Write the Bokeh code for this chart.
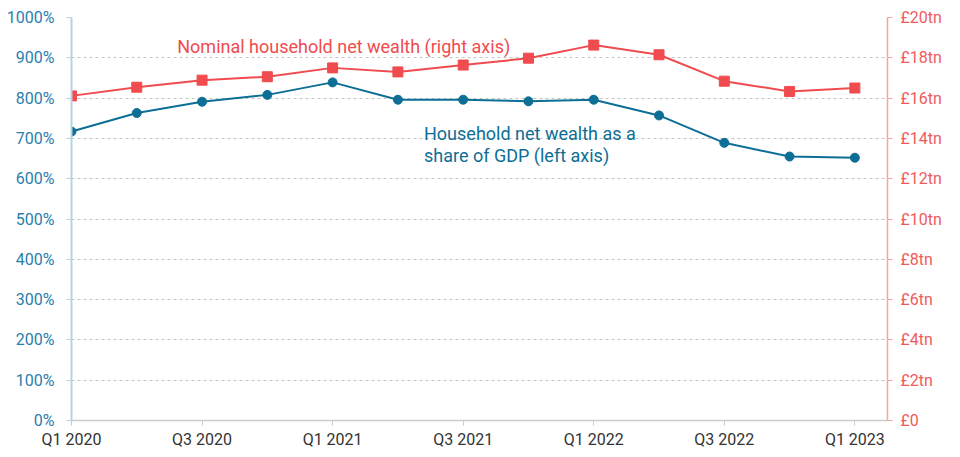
from bokeh.plotting import figure
from bokeh.models import (Range1d, LinearAxis, FixedTicker, Label, ColumnDataSource)
from bokeh.embed import file_html
from bokeh.resources import INLINE

quarters = ["Q1 2020", "Q2 2020", "Q3 2020", "Q4 2020", "Q1 2021", "Q2 2021", "Q3 2021",
            "Q4 2021", "Q1 2022", "Q2 2022", "Q3 2022", "Q4 2022", "Q1 2023"]
share_gdp = [717, 763, 791, 808, 839, 796, 796, 792, 796, 757, 689, 655, 652]
nominal_tn = [16.11, 16.54, 16.89, 17.06, 17.50, 17.30, 17.64, 17.98, 18.63, 18.15, 16.84, 16.33, 16.50]
left_ticks = [0, 100, 200, 300, 400, 500, 600, 700, 800, 900, 1000]
right_ticks = [0, 2, 4, 6, 8, 10, 12, 14, 16, 18, 20]

BLUE = "#0d6e96"
BLUE_LBL = "#2a80ab"
RED = "#f04b4e"
RED_LBL = "#f05a5c"
FONT = "Roboto"

x = list(range(len(quarters)))
src = ColumnDataSource(dict(x=x, share=share_gdp, nom=nominal_tn))

p = figure(width=952, height=455, output_backend="svg", toolbar_location=None,
           x_range=Range1d(0, 12.5), y_range=Range1d(0, 1000),
           min_border_left=71, min_border_right=65, min_border_top=17, min_border_bottom=35)
p.outline_line_color = None
p.background_fill_color = "white"
p.extra_y_ranges = {"right": Range1d(0, 20)}

# grid
p.xgrid.visible = False
p.ygrid.ticker = FixedTicker(ticks=left_ticks)
p.ygrid.grid_line_color = "#c4c4c4"
p.ygrid.grid_line_dash = "3 3"
p.ygrid.grid_line_width = 1

# left axis
ya = p.yaxis[0]
ya.ticker = FixedTicker(ticks=left_ticks)
ya.major_label_overrides = {t: f"{t}%" for t in left_ticks}
ya.axis_line_color = "#b7d3e2"
ya.axis_line_width = 2
ya.major_tick_line_color = "#b7d3e2"
ya.major_tick_in = 0
ya.major_tick_out = 5
ya.minor_tick_line_color = None
ya.major_label_text_color = BLUE_LBL
ya.major_label_text_font = FONT
ya.major_label_text_font_size = "16px"
ya.major_label_standoff = 12

# right axis
ra = LinearAxis(y_range_name="right")
ra.ticker = FixedTicker(ticks=right_ticks)
ra.major_label_overrides = {t: ("£0" if t == 0 else f"£{t}tn") for t in right_ticks}
ra.axis_line_color = "#f7a3a5"
ra.axis_line_width = 1.5
ra.major_tick_line_color = "#f7a3a5"
ra.major_tick_in = 0
ra.major_tick_out = 5
ra.minor_tick_line_color = None
ra.major_label_text_color = RED_LBL
ra.major_label_text_font = FONT
ra.major_label_text_font_size = "16px"
ra.major_label_standoff = 8
p.add_layout(ra, "right")

# bottom axis
xa = p.xaxis[0]
xa.ticker = FixedTicker(ticks=[0, 2, 4, 6, 8, 10, 12])
xa.major_label_overrides = {i: quarters[i] for i in range(0, len(quarters), 2)}
xa.axis_line_color = "#cccccc"
xa.axis_line_width = 1.5
xa.major_tick_line_color = "#cccccc"
xa.major_tick_in = 0
xa.major_tick_out = 5
xa.minor_tick_line_color = None
xa.major_label_text_color = "#333333"
xa.major_label_text_font = FONT
xa.major_label_text_font_size = "16px"
xa.major_label_standoff = 4

# series
p.line("x", "nom", source=src, y_range_name="right", color=RED, line_width=2)
p.scatter("x", "nom", source=src, y_range_name="right", marker="square", size=10,
          fill_color=RED, line_color=RED)
p.line("x", "share", source=src, color=BLUE, line_width=2)
p.scatter("x", "share", source=src, marker="circle", size=9, fill_color=BLUE, line_color=BLUE)

# annotations
p.add_layout(Label(x=1.62, y=927, text="Nominal household net wealth (right axis)",
                   text_color=RED, text_font=FONT, text_font_size="18px",
                   text_baseline="alphabetic", text_align="left"))
p.add_layout(Label(x=5.40, y=713, text="Household net wealth as a",
                   text_color=BLUE, text_font=FONT, text_font_size="18px",
                   text_baseline="alphabetic", text_align="left"))
p.add_layout(Label(x=5.40, y=657, text="share of GDP (left axis)",
                   text_color=BLUE, text_font=FONT, text_font_size="18px",
                   text_baseline="alphabetic", text_align="left"))

open("out.html", "w").write(file_html(p, INLINE))
